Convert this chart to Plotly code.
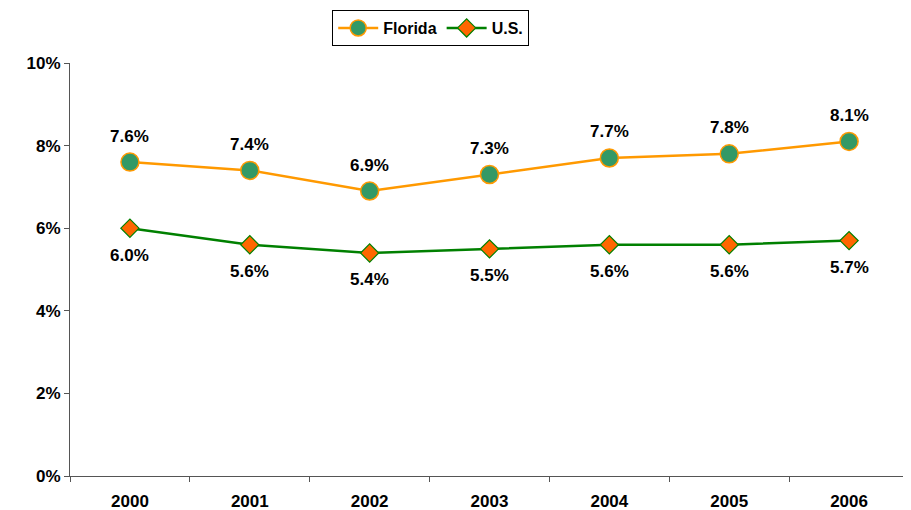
import plotly.graph_objects as go

years = ["2000", "2001", "2002", "2003", "2004", "2005", "2006"]
florida = [7.6, 7.4, 6.9, 7.3, 7.7, 7.8, 8.1]
us = [6.0, 5.6, 5.4, 5.5, 5.6, 5.6, 5.7]
y_ticks = [0, 2, 4, 6, 8, 10]
y_tick_labels = ["0%", "2%", "4%", "6%", "8%", "10%"]

fam = "Liberation Sans, Arial, sans-serif"
font = dict(family=fam, size=17, color="black")

fig = go.Figure()
fig.add_trace(go.Scatter(
    x=years, y=florida, name="<b>Florida</b>", mode="lines+markers",
    line=dict(color="#FF9900", width=2.5),
    marker=dict(symbol="circle", size=18, color="#339966", line=dict(color="#FF9900", width=1.5)),
))
fig.add_trace(go.Scatter(
    x=years, y=us, name="<b>U.S.</b>", mode="lines+markers",
    line=dict(color="#008000", width=2.5),
    marker=dict(symbol="diamond", size=14, color="#FF6600", line=dict(color="#008000", width=1.2)),
))

# category axis: annotation x given as category index
for i, v in enumerate(florida):
    fig.add_annotation(x=i, y=v, text=f"<b>{v:.1f}%</b>", showarrow=False,
                       yshift=26, font=dict(family=fam, size=17, color="black"))
for i, v in enumerate(us):
    fig.add_annotation(x=i, y=v, text=f"<b>{v:.1f}%</b>", showarrow=False,
                       yshift=-27, font=dict(family=fam, size=17, color="black"))

# page body has an 8px margin, so shift figure margins to compensate
fig.update_layout(
    width=911, height=510,
    margin=dict(l=62, r=10, t=55, b=42, autoexpand=False),
    paper_bgcolor="white", plot_bgcolor="white",
    font=font,
    showlegend=True,
    legend=dict(orientation="h", xref="container", yref="container",
                x=0.464, xanchor="center", y=0.996, yanchor="top",
                bordercolor="black", borderwidth=1, bgcolor="white",
                font=dict(family=fam, size=16, color="black"),
                itemwidth=40, tracegroupgap=0),
    xaxis=dict(type="category", tickson="boundaries", ticks="outside", ticklen=5,
               tickcolor="#555555", showline=True, linecolor="#555555", linewidth=1,
               showgrid=False, zeroline=False, ticklabelstandoff=10,
               tickvals=years, ticktext=[f"<b>{y}</b>" for y in years],
               tickfont=dict(family=fam, size=17, color="black"),
               range=[-0.5, 6.5]),
    yaxis=dict(range=[0, 10], tickvals=y_ticks, ticktext=[f"<b>{t}</b>" for t in y_tick_labels],
               ticks="outside", ticklen=5, tickcolor="#555555", showline=True,
               linecolor="#555555", linewidth=1, showgrid=False, zeroline=False,
               tickfont=dict(family=fam, size=17, color="black")),
)
fig.write_html("out.html")
